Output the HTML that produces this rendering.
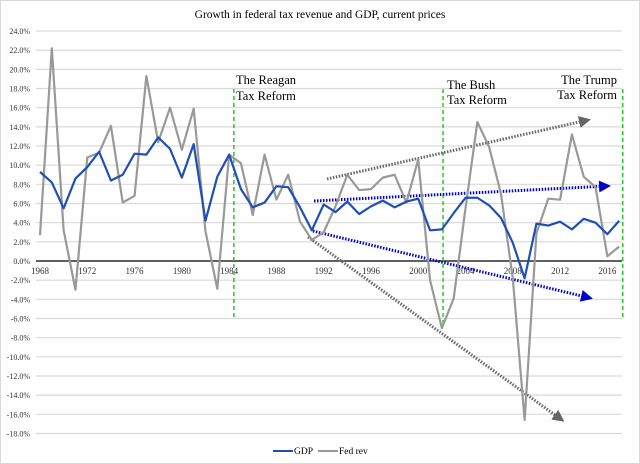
<!DOCTYPE html>
<html><head><meta charset="utf-8"><style>
body{margin:0;background:#fff}
svg{display:block;font-family:"Liberation Serif",serif}
</style></head><body>
<svg id="c" width="640" height="464" viewBox="0 0 640 464">
<rect x="0.5" y="0.5" width="639" height="463" fill="#fff" stroke="#d9d9d9"/>
<text x="320" y="18" text-anchor="middle" font-size="11.5" fill="#000">Growth in federal tax revenue and GDP, current prices</text>
<g id="grid"></g><g id="yax"></g><g id="xax"></g><g id="ann"></g><g id="series"></g>
<g>
<line x1="273" y1="451" x2="293" y2="451" stroke="#1f4fb4" stroke-width="2"/>
<text x="294" y="454" font-size="9.5">GDP</text>
<line x1="318" y1="451" x2="338" y2="451" stroke="#999" stroke-width="2"/>
<text x="339" y="454" font-size="9.5">Fed rev</text>
</g>
</svg>
<script>
const years=[1968,1969,1970,1971,1972,1973,1974,1975,1976,1977,1978,1979,1980,1981,1982,1983,1984,1985,1986,1987,1988,1989,1990,1991,1992,1993,1994,1995,1996,1997,1998,1999,2000,2001,2002,2003,2004,2005,2006,2007,2008,2009,2010,2011,2012,2013,2014,2015,2016,2017];
const gdp=[9.3,8.2,5.5,8.6,9.8,11.4,8.4,9.0,11.2,11.1,12.9,11.7,8.7,12.2,4.2,8.8,11.1,7.5,5.6,6.1,7.8,7.7,5.6,3.2,5.9,5.1,6.2,4.9,5.7,6.3,5.6,6.2,6.5,3.2,3.3,5.0,6.6,6.6,5.8,4.5,1.9,-1.8,3.9,3.7,4.1,3.3,4.4,4.0,2.8,4.2];
const fedrev=[2.7,22.2,3.2,-3.0,10.8,11.3,14.1,6.1,6.8,19.3,12.4,16.0,11.6,15.9,3.1,-2.9,11.1,10.2,4.8,11.1,6.4,9.0,4.1,2.2,3.0,5.7,9.0,7.4,7.5,8.7,9.0,6.1,10.6,-2.0,-7.0,-3.9,5.5,14.5,11.9,7.0,-1.8,-16.6,2.9,6.5,6.4,13.2,8.8,7.7,0.5,1.5];
const yTicks=[24,22,20,18,16,14,12,10,8,6,4,2,0,-2,-4,-6,-8,-10,-12,-14,-16,-18];
const xTicks=[1968,1972,1976,1980,1984,1988,1992,1996,2000,2004,2008,2012,2016];
const reforms=[1984.4,2002.1,2017.3];
const NS="http://www.w3.org/2000/svg";
const X=y=>40+(y-1968)*11.82, Y=v=>261-v*9.583;
function mk(p,t,a){const e=document.createElementNS(NS,t);for(const k in a)e.setAttribute(k,a[k]);p.appendChild(e);return e;}
const grid=document.getElementById('grid'),yax=document.getElementById('yax'),xax=document.getElementById('xax'),ann=document.getElementById('ann'),ser=document.getElementById('series');
yTicks.forEach(v=>{
 const l=mk(grid,'line',{x1:36,x2:622,y1:Y(v),y2:Y(v),stroke:v===0?'#000':'#d9d9d9','stroke-width':v===0?1.2:1.2});
 
 
 const t=mk(yax,'text',{x:30,y:Y(v)+3,'text-anchor':'end','font-size':'8',fill:'#333'});
 t.textContent=v.toFixed(1)+'%';
 
 
});
xTicks.forEach(yr=>{
 const t=mk(xax,'text',{x:X(yr),y:274,'text-anchor':'middle','font-size':'9',fill:'#333'});
 t.textContent=yr;
 
 
});
reforms.forEach((r,i)=>{
 const l=mk(ann,'line',{x1:X(r),x2:X(r),y1:89,y2:i===1?327:317,stroke:'#22cc22','stroke-width':1.5,'stroke-dasharray':'4,3'});
 
 
});
[['The Reagan',236,84,'start'],['Tax Reform',236,100,'start'],['The Bush',447,89,'start'],['Tax Reform',447,104,'start'],['The Trump',617,84,'end'],['Tax Reform',617,99,'end']].forEach(a=>{
 const t=mk(ann,'text',{x:a[1],y:a[2],'font-size':'12.5','text-anchor':a[3]});
 t.textContent=a[0];
 
 
});
const defs=mk(document.getElementById('c'),'defs',{});
[['ag','#666'],['ab','#0000cc']].forEach(d=>{const m=mk(defs,'marker',{id:d[0],markerWidth:4,markerHeight:4,refX:3,refY:2,orient:'auto',markerUnits:'strokeWidth'});mk(m,'path',{d:'M0,0 L4,2 L0,4 Z',fill:d[1]});});
[[327,179,588,120,'#666','ag'],[308,237,562,420,'#666','ag'],[314,201,608,186,'#0000cc','ab'],[313,231,590,298,'#0000cc','ab']].forEach(a=>{
 const l=mk(ann,'line',{x1:a[0],y1:a[1],x2:a[2],y2:a[3],stroke:a[4],'stroke-width':3,'stroke-dasharray':'1.5,1.5','marker-end':'url(#'+a[5]+')'});
 
 
});
function line(vals,col,name){
 const p=mk(ser,'polyline',{points:vals.map((v,i)=>X(years[i])+','+Y(v)).join(' '),fill:'none',stroke:col,'stroke-width':2.2,'stroke-linejoin':'round'});
 
 
}
line(fedrev,'#999','fed-rev-line');
line(gdp,'#1f4fb4','gdp-line');
</script>
</body></html>
